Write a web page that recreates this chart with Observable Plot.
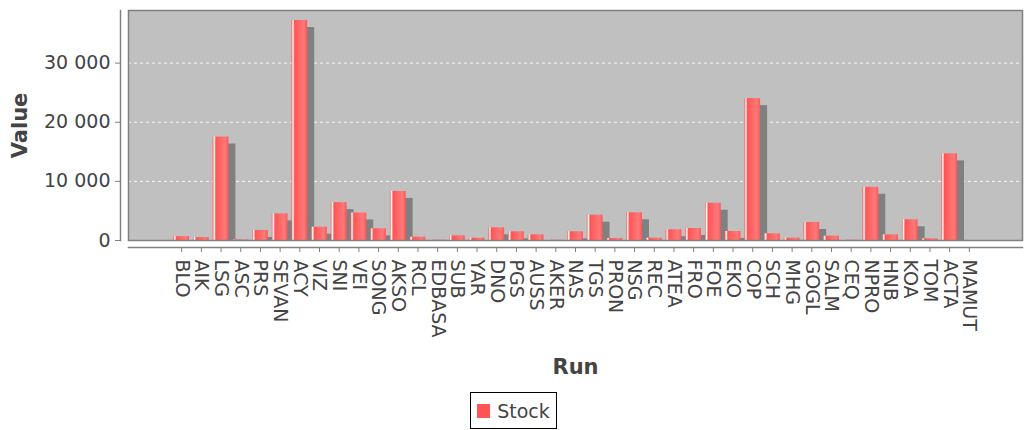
<!DOCTYPE html>
<html>
<head>
<meta charset="utf-8">
<script src="https://cdn.jsdelivr.net/npm/d3@7"></script>
<script src="https://cdn.jsdelivr.net/npm/@observablehq/plot@0.6"></script>
<style>
  body { margin: 0; background: #fff; font-family: "DejaVu Sans", sans-serif; }
  #chart svg { display: block; }
  g[aria-label="y-axis label"] text, g[aria-label="x-axis label"] text { font-weight: bold; font-size: 21px; fill: #444; }
  #legend { display: flex; justify-content: center; }
  #legend .box { border: 1px solid #000; height: 37px; box-sizing: border-box; display: flex; align-items: center;
    padding: 0 6px 0 6px; gap: 7px; font-size: 19px; color: #444; }
  #legend .sw { display: inline-block; width: 13px; height: 14px; }
</style>
</head>
<body>
<div id="chart"></div>
<div id="legend"></div>
<script>
const categories = ["BLO","AIK","LSG","ASC","PRS","SEVAN","ACY","VIZ","SNI","VEI","SONG","AKSO","RCL","EDBASA","SUB","YAR","DNO","PGS","AUSS","AKER","NAS","TGS","PRON","NSG","REC","ATEA","FRO","FOE","EKO","COP","SCH","MHG","GOGL","SALM","CEQ","NPRO","HNB","KOA","TOM","ACTA","MAMUT"];
const stockValues = [650,500,17500,100,1700,4500,37200,2250,6400,4650,1980,8300,560,50,800,390,2150,1470,960,50,1470,4280,340,4680,390,1810,2030,6300,1520,24000,1130,390,3050,730,50,9000,960,3500,290,14650,0];
const yTicks = [0, 10000, 20000, 30000];
const seriesName = "Stock";
const seriesColor = "#FF5555";

const data = categories.map((run, i) => ({run, value: stockValues[i]}));
const fmt = d => d3.format(",")(d).replace(/,/g, " ");

const gradientDefs = () => {
  const defs = d3.create("svg:defs");
  const g = defs.append("linearGradient").attr("id", "barGrad").attr("x1", 0).attr("x2", 1).attr("y1", 0).attr("y2", 0);
  [[0, seriesColor], [0.1, "#FFFFFF"], [0.2, seriesColor], [0.8, "#FF7979"], [1, seriesColor]]
    .forEach(([o, c]) => g.append("stop").attr("offset", o).attr("stop-color", c));
  return defs.node();
};

const plot = Plot.plot({
  width: 1027,
  height: 392,
  marginTop: 10,
  marginBottom: 152,
  marginLeft: 128,
  marginRight: 5,
  style: {fontFamily: "DejaVu Sans, sans-serif", fontSize: "19px", color: "#444", background: "#fff"},
  x: {domain: categories, paddingInner: 0.2, paddingOuter: 2.3, align: 0.5, round: false},
  y: {domain: [0, 38900]},
  marks: [
    gradientDefs,
    Plot.frame({fill: "#C0C0C0", stroke: null}),
    Plot.gridY(yTicks.slice(1), {stroke: "#fff", strokeOpacity: 0.9, strokeDasharray: "3,3"}),
    Plot.barY(data, {x: "run", y: "value", fill: "#808080", dx: 7, dy: 7, clip: "frame"}),
    Plot.barY(data, {x: "run", y: "value", fill: "url(#barGrad)"}),
    Plot.frame({stroke: "#808080", strokeWidth: 1.5}),
    Plot.frame({anchor: "left", dx: -8, stroke: "#808080", strokeWidth: 1.5}),
    Plot.frame({anchor: "bottom", dy: 7, stroke: "#808080", strokeWidth: 1.5}),
    Plot.axisY(yTicks, {dx: -8, tickSize: 5, tickPadding: 5, tickFormat: fmt, label: null, stroke: "#808080"}),
    Plot.axisY({ticks: [], label: "Value", labelAnchor: "center", labelArrow: "none", labelOffset: 116}),
    Plot.axisX({dy: 7, tickSize: 5, tickPadding: 7, tickRotate: 90, label: null, stroke: "#808080"}),
    Plot.axisX({ticks: [], label: "Run", labelAnchor: "center", labelArrow: "none", labelOffset: 133})
  ]
});
document.getElementById("chart").append(plot);

const legend = d3.select("#legend").append("div").attr("class", "box");
legend.append("span").attr("class", "sw").style("background", seriesColor);
legend.append("span").text(seriesName);
</script>
</body>
</html>
